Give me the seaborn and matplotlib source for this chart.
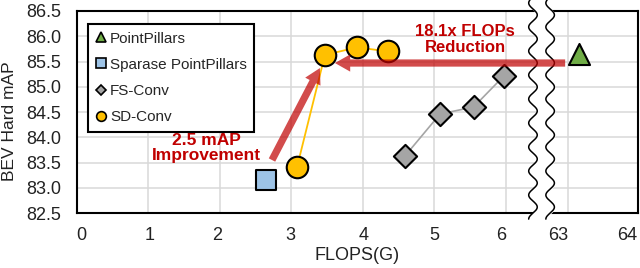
import matplotlib
import numpy as np
import pandas as pd
import seaborn as sns
from matplotlib.lines import Line2D

matplotlib.use("agg")

sns.set_theme(style="white")
matplotlib.rcParams["font.family"] = ["Liberation Sans", "DejaVu Sans"]

# Data (FLOPs in G, BEV hard mAP)
pp_flops = [63.15]
pp_map = [85.65]
sparse_flops = [2.64]
sparse_map = [83.16]
fs_flops = [4.59, 5.08, 5.55, 5.97]
fs_map = [83.63, 84.46, 84.60, 85.21]
sd_flops = [3.08, 3.47, 3.92, 4.35]
sd_map = [83.41, 85.63, 85.78, 85.70]

xtick_values = [0, 1, 2, 3, 4, 5, 6, 63, 64]
ytick_values = [82.5, 83.0, 83.5, 84.0, 84.5, 85.0, 85.5, 86.0, 86.5]

RED = "#C00000"
BREAK_AT = 6.5


def to_axis(v):
    """Map a FLOPs value onto the broken x axis (6 -> 63 gap collapsed)."""
    v = np.asarray(v, dtype=float)
    return np.where(v <= BREAK_AT, v, 6.87 + 0.98 * (v - 63))


frames = []
for name, xs, ys in [
    ("PointPillars", pp_flops, pp_map),
    ("Sparase PointPillars", sparse_flops, sparse_map),
    ("FS-Conv", fs_flops, fs_map),
    ("SD-Conv", sd_flops, sd_map),
]:
    frames.append(pd.DataFrame({"method": name, "pos": to_axis(xs), "map": ys}))
df = pd.concat(frames, ignore_index=True)

colors = {
    "PointPillars": "#70AD47",
    "Sparase PointPillars": "#9DC3E6",
    "FS-Conv": "#A5A5A5",
    "SD-Conv": "#FFC000",
}
markers = {"PointPillars": "^", "Sparase PointPillars": "s", "FS-Conv": "D", "SD-Conv": "o"}
sizes = {"PointPillars": 230, "Sparase PointPillars": 220, "FS-Conv": 140, "SD-Conv": 240}

fig = matplotlib.figure.Figure(figsize=(6.4, 2.68), dpi=100)
ax = fig.add_axes([0.120, 0.205, 0.877, 0.754])

# connecting lines
sns.lineplot(data=df[df.method == "FS-Conv"], x="pos", y="map", color="#A5A5A5",
             lw=1.2, ax=ax, legend=False, zorder=3, sort=False)
sns.lineplot(data=df[df.method == "SD-Conv"], x="pos", y="map", color="#FFC000",
             lw=1.3, ax=ax, legend=False, zorder=3, sort=False)

for name in colors:
    sub = df[df.method == name]
    sns.scatterplot(data=sub, x="pos", y="map", marker=markers[name], s=sizes[name],
                    color=colors[name], edgecolor="black", linewidth=1.5,
                    ax=ax, legend=False, zorder=5)

# axes limits / ticks
grid_pos = to_axis(xtick_values)
ax.set_xlim(0, grid_pos[-1])
ax.set_ylim(82.5, 86.5)
ax.set_yticks(ytick_values)
ax.set_yticklabels([f"{v:.1f}" for v in ytick_values])
label_shift = [0.07, 0.012, -0.04, -0.012, 0.012, 0.005, -0.07, -0.14, -0.15]
ax.set_xticks(grid_pos + np.array(label_shift))
ax.set_xticklabels([str(v) for v in xtick_values])
ax.set_xticks(grid_pos, minor=True)
ax.tick_params(which="both", length=0)
ax.tick_params(axis="x", pad=10, labelsize=13, colors="#222222")
ax.tick_params(axis="y", pad=11, labelsize=13, colors="#222222")
ax.grid(False, axis="x", which="major")
ax.grid(True, axis="x", which="minor", color="#D9D9D9", lw=1.1)
ax.grid(True, axis="y", which="major", color="#D9D9D9", lw=1.1)
ax.set_axisbelow(True)
for s in ax.spines.values():
    s.set_color("black")
    s.set_linewidth(1.5)

ax.set_xlabel("FLOPS(G)", fontsize=13, color="#222222", labelpad=2)
ax.set_ylabel("BEV Hard mAP", fontsize=12.5, color="#222222")
ax.yaxis.set_label_coords(-0.106, 0.455)

# axis break
trans = matplotlib.transforms.blended_transform_factory(ax.transData, ax.transAxes)
yy = np.linspace(-0.03, 1.055, 400)
wave = 0.06 * np.sin(2 * np.pi * yy * 202 / 24)
left = BREAK_AT - 0.12 + wave
right = BREAK_AT + 0.12 + wave
ax.fill_betweenx(yy, left, right, color="white", transform=trans, clip_on=False, zorder=3.5)
ax.plot(left, yy, color="black", lw=1.1, transform=trans, clip_on=False, zorder=3.6)
ax.plot(right, yy, color="black", lw=1.1, transform=trans, clip_on=False, zorder=3.6)

# arrows and annotations
arrow_style = "simple,head_length=0.55,head_width=0.62,tail_width=0.26"
ax.annotate("", xy=(3.61, 85.47), xytext=(6.83, 85.47),
            arrowprops=dict(arrowstyle=arrow_style, mutation_scale=20, color=RED,
                            alpha=0.7, lw=0, shrinkA=0, shrinkB=0), zorder=6)
ax.annotate("", xy=(3.40, 85.37), xytext=(2.73, 83.55),
            arrowprops=dict(arrowstyle=arrow_style, mutation_scale=20, color=RED,
                            alpha=0.7, lw=0, shrinkA=0, shrinkB=0), zorder=6)
ax.text(5.43, 85.93, "18.1x FLOPs\nReduction", color=RED, fontsize=12, fontweight="bold",
        ha="center", va="center", linespacing=1.05, zorder=7)
ax.text(1.82, 83.79, "2.5 mAP\nImprovement", color=RED, fontsize=12.5, fontweight="bold",
        ha="center", va="center", linespacing=1.05, zorder=7)

# legend
handles = [
    Line2D([], [], ls="none", marker=markers[n], color=colors[n], markeredgecolor="black",
           markeredgewidth=1.2, markersize=7 if n != "FS-Conv" else 5.5)
    for n in colors
]
leg = ax.legend(handles, list(colors), loc="upper left", bbox_to_anchor=(0.0196, 0.936),
                borderaxespad=0, fancybox=False, framealpha=1, edgecolor="black",
                fontsize=11, handlelength=0.7, handletextpad=0.25, labelspacing=0.8,
                borderpad=0.5)
leg.get_frame().set_linewidth(1.5)
leg.set_zorder(8)

fig.savefig("out.png", dpi=100)
